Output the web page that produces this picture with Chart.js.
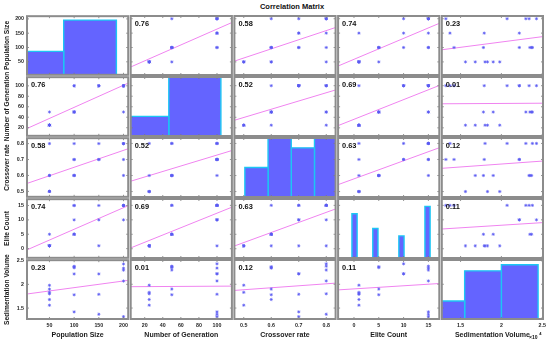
<!DOCTYPE html>
<html>
<head>
<meta charset="utf-8">
<title>Correlation Matrix</title>
<script src="https://cdn.jsdelivr.net/npm/chart.js@4.4.1/dist/chart.umd.min.js"></script>
<style>
  body { margin: 0; background: #fff; }
  #plots { position: relative; width: 550px; height: 341px; overflow: hidden; font-family: 'Liberation Sans', Arial, sans-serif; }
  #plots canvas { position: absolute; }
  #mainTitle { position: absolute; top: 1px; left: 0; width: 584px; text-align: center; font-weight: bold; font-size: 7.5px; line-height: 11px; color: #111; }
</style>
</head>
<body>
<div id="plots"><div id="mainTitle">Correlation Matrix</div></div>
<script>
//////////// DATA : 20 runs ////////////
var popSize     = [50, 50, 50, 50, 50, 50, 100, 100, 100, 100, 100, 150, 150, 150, 200, 200, 200, 200, 200, 100];
var generations = [25, 25, 25, 25, 25, 50, 50, 50, 50, 100, 100, 100, 100, 100, 50, 100, 100, 100, 100, 50];
var crossRate   = [0.5, 0.6, 0.8, 0.5, 0.5, 0.6, 0.6, 0.6, 0.6, 0.7, 0.7, 0.7, 0.7, 0.8, 0.8, 0.8, 0.8, 0.6, 0.7, 0.8];
var eliteCount  = [1, 1, 1, 1, 1, 5, 5, 5, 5, 10, 15, 1, 10, 15, 15, 10, 15, 15, 15, 15];
var sedVolume   = [1.56, 1.68, 1.80, 1.83, 1.98, 1.90, 1.78, 2.35, 2.37, 2.22, 1.42, 1.79, 2.22, 1.37, 2.30, 2.43, 2.07, 2.34, 1.32, 2.38]; // x 10^4

var varNames = ['Population Size', 'Number of Generation', 'Crossover rate', 'Elite Count', 'Sedimentation Volume'];
var varData = [popSize, generations, crossRate, eliteCount, sedVolume];

// axis limits + tick labels
var axisMin = [4.5, 4.5, 0.466, -3.2, 1.27];
var axisMax = [209.5, 116.5, 0.834, 17.2, 2.51];
var popTicks = [50, 100, 150, 200];
var genTicks = [20, 40, 60, 80, 100];
var crossTicks = [0.5, 0.6, 0.7, 0.8];
var eliteTicks = [0, 5, 10, 15];
var sedTicks = [1.5, 2, 2.5];
var axisTicks = [popTicks, genTicks, crossTicks, eliteTicks, sedTicks];

// correlation coefficients as printed
var corrLabels = [
  ['', '0.76', '0.58', '0.74', '0.23'],
  ['0.76', '', '0.52', '0.69', '0.01'],
  ['0.58', '0.52', '', '0.63', '0.12'],
  ['0.74', '0.69', '0.63', '', '0.11'],
  ['0.23', '0.01', '0.12', '0.11', '']
];

// histograms on the diagonal
var popBins = [-50, 75, 200],                  popCounts = [6, 14];
var genBins = [-25, 37.5, 100],                genCounts = [5, 15];
var crossBins = [0.45, 0.55, 0.65, 0.75, 0.85], crossCounts = [3, 6, 5, 6];
var eliteBins = [0.5, 1.5, 4.5, 5.5, 9.5, 10.5, 14.5, 15.5], eliteCounts = [6, 0, 4, 0, 3, 0, 7];
var sedBins = [1.1, 1.55, 2.0, 2.45],          sedCounts = [3, 8, 9];
var histEdges = [popBins, genBins, crossBins, eliteBins, sedBins];
var histCounts = [popCounts, genCounts, crossCounts, eliteCounts, sedCounts];
var histMin = [-12, -8.2, 0.405, -2.15, 1.27];
var histMax = [228, 113.2, 0.841, 17.26, 2.51];
var histTop = [15, 15, 6, 8, 9.8];

//////////// LAYOUT ////////////
var PAGE_W = 550, PAGE_H = 341;
var LEFT0 = 27, TOP0 = 16, STEP_X = 103.7, STEP_Y = 61, PANEL_W = 101.2, PANEL_H = 59, M = 6;
var FONT = "'Liberation Sans', Arial, sans-serif";
var tickFont = { family: FONT, size: 5.3, weight: 'bold' };
var titleFont = { family: FONT, size: 7, weight: 'bold' };
var yTitleFont = { family: FONT, size: 6.6, weight: 'bold' };

function fitLine(xs, ys) {
    var n = xs.length, mx = 0, my = 0, sxy = 0, sxx = 0;
    for (var i = 0; i < n; i++) { mx += xs[i]; my += ys[i]; }
    mx /= n; my /= n;
    for (var j = 0; j < n; j++) {
        sxy += (xs[j] - mx) * (ys[j] - my);
        sxx += (xs[j] - mx) * (xs[j] - mx);
    }
    var b = sxy / sxx;
    return { a: my - b * mx, b: b };
}

// frame, inward ticks, r label
var framePlugin = {
    id: 'frame',
    afterDatasetsDraw: function(chart, args, opts) {
        var a = chart.chartArea, ctx = chart.ctx;
        var sx = chart.scales.x, sy = chart.scales.y;
        ctx.save();
        ctx.strokeStyle = '#7a7a7a';
        ctx.lineWidth = 0.8;
        ctx.beginPath();
        opts.xTicks.forEach(function(v) {
            var p = sx.getPixelForValue(v);
            ctx.moveTo(p, a.bottom); ctx.lineTo(p, a.bottom - 2);
            ctx.moveTo(p, a.top); ctx.lineTo(p, a.top + 2);
        });
        opts.yTicks.forEach(function(v) {
            var p = sy.getPixelForValue(v);
            ctx.moveTo(a.left, p); ctx.lineTo(a.left + 2, p);
            ctx.moveTo(a.right, p); ctx.lineTo(a.right - 2, p);
        });
        ctx.stroke();
        ctx.strokeStyle = '#8c8c8c';
        ctx.lineWidth = 2;
        ctx.strokeRect(a.left, a.top, a.right - a.left, a.bottom - a.top);
        ctx.restore();
    },
    afterDraw: function(chart, args, opts) {
        var a = chart.chartArea, ctx = chart.ctx;
        ctx.save();
        ctx.fillStyle = '#111';
        ctx.textBaseline = 'middle';
        if (opts.label) {
            ctx.font = 'bold 7.4px ' + FONT;
            ctx.fillText(opts.label, a.left + 4, a.top + 7.5);
        }
        if (opts.exponent) {
            ctx.font = 'bold 5px ' + FONT;
            ctx.textBaseline = 'alphabetic';
            var ex = a.right - 14;
            ctx.fillText('\u00d710', ex, chart.height - 2);
            ctx.font = 'bold 4px ' + FONT;
            ctx.fillText('4', ex + ctx.measureText('\u00d710').width + 3.5, chart.height - 6);
        }
        ctx.restore();
    }
};

function axisOptions(idx, show, isX, panelEdge) {
    var o = {
        type: 'linear',
        position: isX ? 'bottom' : 'left',
        min: axisMin[idx],
        max: axisMax[idx],
        display: show,
        afterBuildTicks: function(s) { s.ticks = axisTicks[idx].map(function(v) { return { value: v }; }); },
        grid: { display: false, drawTicks: false },
        border: { display: false },
        ticks: { padding: 3, autoSkip: false, maxRotation: 0, color: '#262626', font: tickFont,
                 callback: function(v) { return String(v); } },
        title: { display: true, text: varNames[idx], color: '#1a1a1a', font: isX ? titleFont : yTitleFont,
                 padding: isX ? { top: 0, bottom: 1.5 } : { top: 3.2, bottom: 0 } }
    };
    if (show) {
        o.afterFit = isX ? function(s) { s.height = PAGE_H - panelEdge; } : function(s) { s.width = panelEdge; };
    }
    return o;
}

var holder = document.getElementById('plots');

function makePanel(r, c) {
    var left = LEFT0 + c * STEP_X, top = TOP0 + r * STEP_Y;
    var right = left + PANEL_W, bottom = top + PANEL_H;
    var cvL = c === 0 ? 0 : Math.floor(left - M);
    var cvT = Math.floor(top - M);
    var cvR = Math.min(PAGE_W, Math.ceil(right + M));
    var cvB = r === 4 ? PAGE_H : Math.ceil(bottom + M);

    var canvas = document.createElement('canvas');
    canvas.width = cvR - cvL;
    canvas.height = cvB - cvT;
    canvas.style.left = cvL + 'px';
    canvas.style.top = cvT + 'px';
    holder.appendChild(canvas);

    var scales = {
        x: axisOptions(c, r === 4, true, bottom),
        y: axisOptions(r, c === 0, false, left)
    };
    var datasets = [];

    if (r === c) {
        scales.xh = { type: 'linear', axis: 'x', position: 'bottom', display: false, min: histMin[c], max: histMax[c] };
        scales.yh = { type: 'linear', axis: 'y', position: 'left', display: false, min: 0, max: histTop[c] };
        var edges = histEdges[c], counts = histCounts[c];
        for (var k = 0; k < counts.length; k++) {
            if (!counts[k]) continue;
            datasets.push({
                xAxisID: 'xh', yAxisID: 'yh',
                data: [{ x: edges[k], y: 0 }, { x: edges[k], y: counts[k] }, { x: edges[k + 1], y: counts[k] }, { x: edges[k + 1], y: 0 }],
                showLine: true, fill: 'origin',
                backgroundColor: '#6464ff', borderColor: '#1cc6f4', borderWidth: 1.4,
                pointRadius: 0
            });
        }
    } else {
        var xs = varData[c], ys = varData[r];
        var pts = xs.map(function(v, i) { return { x: v, y: ys[i] }; });
        var f = fitLine(xs, ys);
        datasets.push({
            data: pts,
            pointStyle: 'star', pointRadius: 1.6,
            pointBorderColor: '#5a5af2', pointBackgroundColor: '#5a5af2', pointBorderWidth: 0.7
        });
        datasets.push({
            data: [{ x: axisMin[c], y: f.a + f.b * axisMin[c] }, { x: axisMax[c], y: f.a + f.b * axisMax[c] }],
            showLine: true, pointRadius: 0, borderColor: '#f084f0', borderWidth: 1, clip: 0
        });
    }

    new Chart(canvas, {
        type: 'scatter',
        data: { datasets: datasets },
        options: {
            responsive: false,
            animation: false,
            devicePixelRatio: 1,
            events: [],
            layout: { padding: {
                left: c === 0 ? 0 : left - cvL,
                right: cvR - right,
                top: top - cvT,
                bottom: r === 4 ? 0 : cvB - bottom
            } },
            plugins: {
                legend: { display: false },
                tooltip: { enabled: false },
                frame: { label: corrLabels[r][c], xTicks: axisTicks[c], yTicks: axisTicks[r], exponent: r === 4 && c === 4 }
            },
            scales: scales
        },
        plugins: [framePlugin]
    });
}

for (var r = 0; r < 5; r++) {
    for (var c = 0; c < 5; c++) {
        makePanel(r, c);
    }
}
</script>
</body>
</html>
